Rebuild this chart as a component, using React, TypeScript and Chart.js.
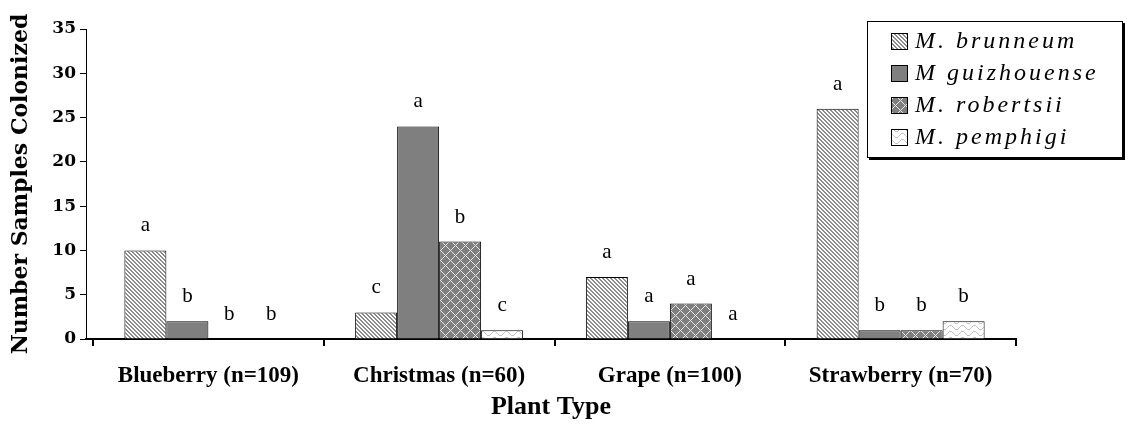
import React, { useEffect, useRef } from 'react';
import { Chart, registerables } from 'chart.js';

Chart.register(...registerables);

const categories = ['Blueberry (n=109)', 'Christmas (n=60)', 'Grape (n=100)', 'Strawberry (n=70)'];
const seriesNames = ['M. brunneum', 'M guizhouense', 'M. robertsii', 'M. pemphigi'];
const brunneum = [10, 3, 7, 26];
const guizhouense = [2, 24, 2, 1];
const robertsii = [0, 11, 4, 1];
const pemphigi = [0, 1, 0, 2];
const brunneumLetters = ['a', 'c', 'a', 'a'];
const guizhouenseLetters = ['b', 'a', 'a', 'b'];
const robertsiiLetters = ['b', 'b', 'a', 'b'];
const pemphigiLetters = ['b', 'c', 'a', 'b'];
const yMin = 0;
const yMax = 35;
const yStep = 5;
const xTitle = 'Plant Type';
const yTitle = 'Number Samples Colonized';

function makePattern(kind: string): CanvasPattern | string {
  const c = document.createElement('canvas');
  const g = c.getContext('2d');
  if (!g) return '#808080';
  if (kind === 'stripe') {
    c.width = 4; c.height = 4;
    g.fillStyle = '#ffffff'; g.fillRect(0, 0, 4, 4);
    g.fillStyle = '#8c8c8c';
    for (let y = 0; y < 4; y++) {
      g.fillRect(y % 4, y, 1, 1);
      g.fillRect((y + 1) % 4, y, 1, 1);
    }
  } else if (kind === 'lattice') {
    const n = 10;
    c.width = n; c.height = n;
    g.fillStyle = '#7f7f7f'; g.fillRect(0, 0, n, n);
    g.fillStyle = '#e6e6e6';
    for (let y = 0; y < n; y++) {
      g.fillRect(y, y, 1, 1);
      g.fillRect((n - y) % n, y, 1, 1);
    }
  } else if (kind === 'wave') {
    c.width = 12; c.height = 6;
    g.fillStyle = '#ffffff'; g.fillRect(0, 0, 12, 6);
    g.fillStyle = '#c4c4c4';
    const wave = [2, 1, 1, 1, 2, 3, 4, 5, 5, 5, 4, 3];
    for (let x = 0; x < 12; x++) g.fillRect(x, wave[x], 1, 1);
  } else {
    return '#7f7f7f';
  }
  return g.createPattern(c, 'repeat') || '#808080';
}

export default function App() {
  const ref = useRef<HTMLCanvasElement>(null);

  useEffect(() => {
    document.body.style.margin = '0';
    const canvas = ref.current;
    if (!canvas) return;
    const fills = [makePattern('stripe'), makePattern('solid'), makePattern('lattice'), makePattern('wave')];
    const letters = [brunneumLetters, guizhouenseLetters, robertsiiLetters, pemphigiLetters];
    const values = [brunneum, guizhouense, robertsii, pemphigi];

    const shiftPlugin = {
      id: 'shiftCategories',
      afterLayout(chart: any) {
        const x = chart.scales.x;
        x._startPixel = x.left + 7;
        x._length = x._endPixel - x._startPixel;
      },
    };

    const lettersPlugin = {
      id: 'letters',
      afterDatasetsDraw(chart: any) {
        const ctx = chart.ctx;
        ctx.save();
        ctx.font = '21px "Liberation Serif"';
        ctx.fillStyle = '#000';
        ctx.textAlign = 'center';
        ctx.textBaseline = 'alphabetic';
        chart.data.datasets.forEach((_ds: any, di: number) => {
          const meta = chart.getDatasetMeta(di);
          meta.data.forEach((el: any, i: number) => {
            ctx.fillText(letters[di][i], el.x, el.y - 19);
          });
        });
        ctx.restore();
      },
    };

    const legendPlugin = {
      id: 'boxLegend',
      afterDraw(chart: any) {
        const ctx = chart.ctx;
        const x0 = chart.width - 261;
        const y0 = 21;
        const w = 255;
        const h = 136;
        ctx.save();
        ctx.fillStyle = '#000';
        ctx.fillRect(x0 + 2, y0 + 2, w + 1, h + 1);
        ctx.fillStyle = '#fff';
        ctx.fillRect(x0, y0, w, h);
        ctx.strokeStyle = '#000';
        ctx.lineWidth = 1;
        ctx.strokeRect(x0 + 0.5, y0 + 0.5, w, h);
        ctx.font = 'italic 24px "Liberation Serif"';
        (ctx as any).letterSpacing = '3px';
        ctx.textBaseline = 'middle';
        ctx.textAlign = 'left';
        seriesNames.forEach((name, i) => {
          const cy = y0 + 20 + i * 32;
          ctx.fillStyle = fills[i] as any;
          ctx.fillRect(x0 + 24, cy - 8, 17, 17);
          ctx.strokeStyle = '#000';
          ctx.strokeRect(x0 + 24.5, cy - 7.5, 16, 16);
          ctx.fillStyle = '#000';
          ctx.fillText(name, x0 + 48, cy + 1);
        });
        ctx.restore();
      },
    };

    const chart = new Chart(canvas, {
      type: 'bar',
      data: {
        labels: categories,
        datasets: seriesNames.map((name, i) => ({
          label: name,
          data: values[i],
          backgroundColor: fills[i] as any,
          borderColor: '#000',
          borderWidth: 1,
          borderSkipped: 'bottom',
          categoryPercentage: 0.728,
          barPercentage: 1,
        })),
      },
      options: {
        animation: false,
        responsive: false,
        maintainAspectRatio: false,
        layout: { padding: { top: 29, right: 112, left: 0, bottom: 0 } },
        plugins: { legend: { display: false }, tooltip: { enabled: false } },
        scales: {
          x: {
            offset: true,
            grid: {
              display: true,
              offset: true,
              drawOnChartArea: false,
              drawTicks: true,
              tickLength: 7,
              color: '#000',
              lineWidth: 2,
            },
            border: { display: true, color: '#000', width: 2 },
            ticks: {
              color: '#000',
              font: { family: 'Liberation Serif', size: 23, weight: 'bold' },
              padding: 16,
              maxRotation: 0,
              autoSkip: false,
            },
            title: {
              display: true,
              text: xTitle,
              color: '#000',
              font: { family: 'Liberation Serif', size: 26, weight: 'bold' },
              padding: { top: 0, bottom: 10 },
            },
            afterFit: (s: any) => { s.height = 94; },
          },
          y: {
            min: yMin,
            max: yMax,
            ticks: {
              stepSize: yStep,
              color: '#000',
              font: { family: 'DejaVu Serif', size: 17, weight: 'bold' },
              padding: 4,
            },
            grid: { drawOnChartArea: false, tickLength: 6, color: '#000', lineWidth: 1 },
            border: { display: true, color: '#000', width: 1 },
            title: {
              display: true,
              text: yTitle,
              color: '#000',
              font: { family: 'DejaVu Serif', size: 22, weight: 'bold' },
              padding: { top: 8, bottom: 0 },
            },
            afterFit: (s: any) => { s.width = 86; },
          },
        },
      },
      plugins: [shiftPlugin, lettersPlugin, legendPlugin],
    });
    return () => chart.destroy();
  }, []);

  return <canvas ref={ref} width={1128} height={433} style={{ display: 'block' }} />;
}
